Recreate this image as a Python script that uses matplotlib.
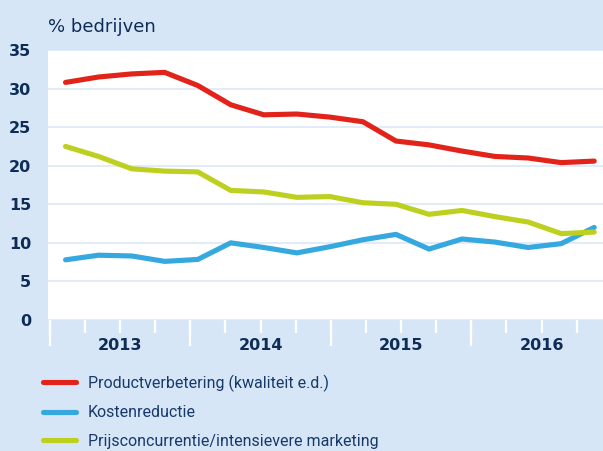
import numpy as np
import matplotlib
matplotlib.use('Agg')
import matplotlib.pyplot as plt
from matplotlib import font_manager

# Values (share of companies, %)
years = ['2013', '2014', '2015', '2016']
product = [30.8, 31.5, 31.9, 32.1, 30.4, 27.9, 26.6, 26.7, 26.3, 25.7,
           23.2, 22.7, 21.9, 21.2, 21.0, 20.4, 20.6]
kosten = [7.8, 8.4, 8.3, 7.6, 7.85, 10.0, 9.4, 8.7, 9.5, 10.4,
          11.1, 9.2, 10.5, 10.1, 9.4, 9.9, 12.0]
prijs = [22.5, 21.2, 19.6, 19.3, 19.2, 16.8, 16.6, 15.9, 16.0, 15.2,
         15.0, 13.7, 14.2, 13.4, 12.7, 11.2, 11.4]
labels = ['Productverbetering (kwaliteit e.d.)', 'Kostenreductie',
          'Prijsconcurrentie/intensievere marketing']

BG = '#d6e6f7'
NAVY = '#0e2d56'
RED = '#e2231a'
BLUE = '#35a8e0'
GREEN = '#bed01f'


def pick_font(names):
    have = {f.name for f in font_manager.fontManager.ttflist}
    for n in names:
        if n in have:
            return n
    return 'DejaVu Sans'


narrow = pick_font(['Liberation Sans Narrow', 'DejaVu Sans Condensed', 'Roboto'])

fig = plt.figure(figsize=(6.03, 4.51), dpi=100, facecolor=BG)
W, H = 603, 451
ax = fig.add_axes([48 / W, 1 - 320 / H, (603 - 48) / W, 270 / H])
ax.set_facecolor('white')

# 17 periods spread over the 16 quarters of 2013-2016
x = np.linspace(0.45, 15.5, len(product))
for vals, col in [(product, RED), (kosten, BLUE), (prijs, GREEN)]:
    ax.plot(x, vals, color=col, lw=3.7, solid_capstyle='round',
            solid_joinstyle='miter', zorder=3)

ax.set_xlim(-0.05, 15.75)
ax.set_ylim(0, 35)
ax.set_yticks(range(0, 36, 5))
ax.grid(axis='y', color='#dce9f7', lw=1.2, zorder=1)
for s in ax.spines.values():
    s.set_visible(False)

ax.tick_params(axis='y', length=0, pad=12, labelsize=11.5, labelcolor=NAVY)
for t in ax.get_yticklabels():
    t.set_fontweight('bold')

# quarter ticks (short), year-boundary ticks (long), year labels in the middle
quarters = np.arange(16)
ax.set_xticks(quarters)
ax.set_xticklabels([years[q // 4] if q % 4 == 2 else '' for q in quarters])
ax.set_xticks(quarters[::4], minor=True)
ax.xaxis.remove_overlapping_locs = False
ax.tick_params(axis='x', which='major', length=9, width=1.6, color='white',
               pad=4, labelsize=11.5, labelcolor=NAVY)
ax.tick_params(axis='x', which='minor', length=19, width=1.6, color='white')
for t in ax.get_xticklabels():
    t.set_fontweight('bold')

fig.text(48 / W, 1 - 27 / H, '% bedrijven', fontsize=13, color=NAVY,
         va='center', ha='left')

leg = fig.legend(ax.get_lines(), labels, loc='upper left',
                 bbox_to_anchor=(29 / W, 1 - 360 / H), frameon=False,
                 handlelength=2.05, handletextpad=0.75, labelspacing=0.85,
                 prop={'family': narrow, 'size': 11.5})
for t in leg.get_texts():
    t.set_color('#173a69')

fig.savefig('out.png', dpi=100, facecolor=BG)
